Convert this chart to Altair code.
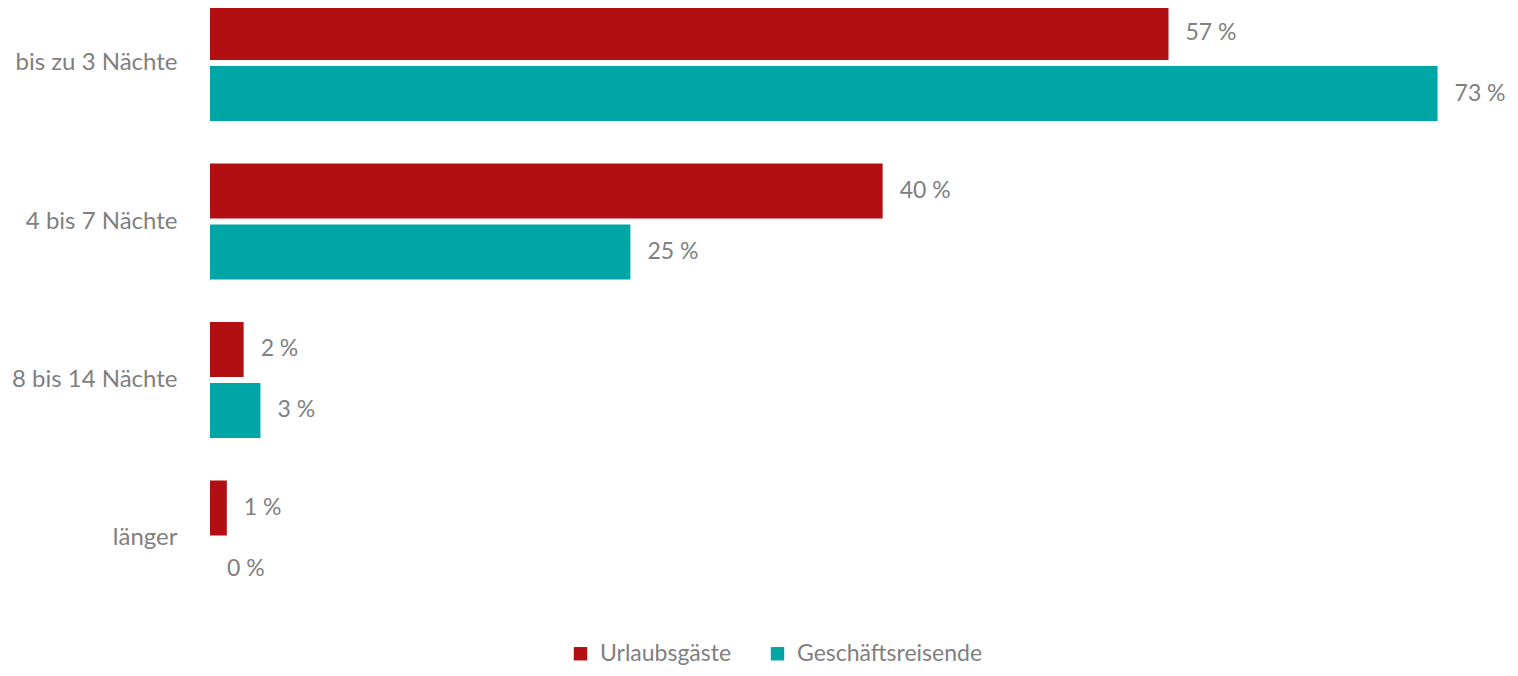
import altair as alt
import pandas as pd

categories = ["bis zu 3 Nächte", "4 bis 7 Nächte", "8 bis 14 Nächte", "länger"]
series = ["Urlaubsgäste", "Geschäftsreisende"]
urlaub = [57, 40, 2, 1]
geschaeft = [73, 25, 3, 0]
colors = ["#B20F13", "#00A6A6"]

rows = []
for i, c in enumerate(categories):
    rows.append({"cat": c, "series": series[0], "value": urlaub[i], "label": f"{urlaub[i]} %"})
    rows.append({"cat": c, "series": series[1], "value": geschaeft[i], "label": f"{geschaeft[i]} %"})
df = pd.DataFrame(rows)

FONT = "Lato"
GREY = "#7F7F7F"

y_enc = alt.Y("cat:N", sort=categories, title=None,
              scale=alt.Scale(range=[-3, 588.5], paddingInner=0.268, paddingOuter=0),
              axis=alt.Axis(domain=False, ticks=False, labelPadding=33, labelFont=FONT,
                            labelFontSize=24, labelColor=GREY, labelLimit=400))
yoff = alt.YOffset("series:N", sort=series, scale=alt.Scale(paddingInner=0.098, paddingOuter=0))
x_enc = alt.X("value:Q", title=None, scale=alt.Scale(domain=[0, 76], nice=False),
              axis=None)

bars = alt.Chart(df).mark_bar().encode(
    x=x_enc, y=y_enc, yOffset=yoff,
    color=alt.Color("series:N", sort=series,
                    scale=alt.Scale(domain=series, range=colors),
                    legend=alt.Legend(title=None, orient="none", direction="horizontal",
                                      legendX=359, legendY=634, symbolType="square",
                                      symbolSize=180, symbolStrokeWidth=0,
                                      labelFont=FONT, labelFontSize=23, labelColor=GREY,
                                      columnPadding=34, labelOffset=8, labelLimit=400)),
)

text = alt.Chart(df).mark_text(align="left", baseline="middle", dx=17, font=FONT,
                               fontSize=23, color=GREY).encode(
    x=x_enc, y=y_enc, yOffset=yoff, text="label:N"
)

chart = (bars + text).properties(
    width=1278, height=560,
    autosize=alt.AutoSizeParams(type="none"),
    padding={"left": 202, "top": 0, "right": 20, "bottom": 100},
).configure_view(stroke=None)

chart.save("out.html", embed_options={"renderer": "svg", "actions": False})
